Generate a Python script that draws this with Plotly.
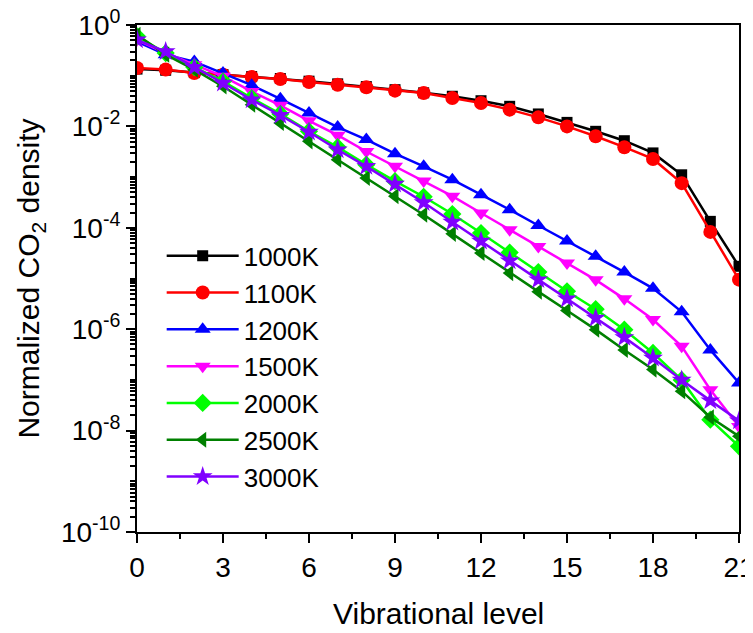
import plotly.graph_objects as go

levels = list(range(22))

t1000 = [0.135, 0.128, 0.115, 0.105, 0.096, 0.088, 0.078, 0.069, 0.061, 0.053, 0.046,
         0.0393, 0.0321, 0.0249, 0.0176, 0.012, 0.008, 0.00522, 0.003, 0.00111, 1.34e-4, 1.74e-5]
t1100 = [0.142, 0.132, 0.113, 0.105, 0.094, 0.086, 0.075, 0.0665, 0.059, 0.0507, 0.0456,
         0.0363, 0.029, 0.0214, 0.0151, 0.010, 0.00638, 0.00389, 0.00228, 7.6e-4, 8.3e-5, 9.5e-6]
t1200 = [0.47, 0.26, 0.19, 0.113, 0.065, 0.035, 0.0184, 0.0097, 0.0055, 0.0029, 0.00163,
         8.9e-4, 4.5e-4, 2.28e-4, 1.11e-4, 5.5e-5, 2.74e-5, 1.34e-5, 6.4e-6, 2.2e-6, 3.9e-7, 8.7e-8]
t1500 = [0.51, 0.28, 0.165, 0.097, 0.049, 0.026, 0.0129, 0.0067, 0.0032, 0.00163, 8.4e-4,
         4.2e-4, 1.96e-4, 9.2e-5, 4.3e-5, 2.02e-5, 9.4e-6, 3.97e-6, 1.55e-6, 4.6e-7, 6.4e-8, 1.2e-8]
t2000 = [0.6, 0.28, 0.147, 0.0776, 0.0363, 0.0176, 0.008, 0.0039, 0.00176, 8.3e-4, 4.1e-4,
         1.87e-4, 7.9e-5, 3.26e-5, 1.34e-5, 5.6e-6, 2.48e-6, 9.8e-7, 3.4e-7, 1.0e-7, 1.64e-8, 4.9e-9]
t2500 = [0.64, 0.26, 0.131, 0.0618, 0.0268, 0.0117, 0.00508, 0.0022, 9.6e-4, 4.2e-4, 1.81e-4,
         7.6e-5, 3.18e-5, 1.28e-5, 5.5e-6, 2.34e-6, 9.8e-7, 3.9e-7, 1.6e-7, 6.0e-8, 1.83e-8, 7.7e-9]
t3000 = [0.51, 0.30, 0.147, 0.0718, 0.0336, 0.0166, 0.00776, 0.00347, 0.00163, 7.3e-4, 3.16e-4,
         1.3e-4, 5.5e-5, 2.24e-5, 9.5e-6, 4.0e-6, 1.66e-6, 6.9e-7, 2.7e-7, 1.0e-7, 3.9e-8, 1.57e-8]

series_names = ["1000K", "1100K", "1200K", "1500K", "2000K", "2500K", "3000K"]
series_values = [t1000, t1100, t1200, t1500, t2000, t2500, t3000]
colors = ["#000000", "#FF0000", "#0000FF", "#FF00FF", "#00FF00", "#008000", "#8000FF"]
symbols = ["square", "circle", "triangle-up", "triangle-down", "diamond", "triangle-left", "star"]
sizes = [11, 14, 14, 14, 14, 14, 15]

y_tick_exps = [0, -2, -4, -6, -8, -10]
x_tick_vals = [0, 3, 6, 9, 12, 15, 18, 21]
x_title = "Vibrational level"
y_title = "Normalized CO<sub>2</sub> density"

FONT = "Liberation Sans, Arial, sans-serif"

fig = go.Figure()
for name, vals, c, s, sz in zip(series_names, series_values, colors, symbols, sizes):
    fig.add_trace(go.Scatter(
        x=levels, y=vals, name=name, mode="lines+markers",
        line=dict(color=c, width=2.5),
        marker=dict(symbol=s, size=sz, color=c, line=dict(width=0)),
    ))

minor_y = []
for d in range(-10, 0):
    for k in range(1, 10):
        v = k * 10.0 ** d
        if k == 1 and d % 2 == 0:
            continue
        minor_y.append(v)

# page body has an 8px margin, so the figure is sized to fit the 753x633 window
fig.update_layout(
    width=745, height=617,
    margin=dict(l=129, r=14, t=17, b=93),
    paper_bgcolor="white", plot_bgcolor="white",
    font=dict(family=FONT, color="black", size=28),
    showlegend=True,
    legend=dict(
        x=0.041, y=0.591, xanchor="left", yanchor="top",
        bgcolor="rgba(0,0,0,0)", borderwidth=0,
        font=dict(family=FONT, size=26, color="black"),
        tracegroupgap=0, itemwidth=72,
    ),
    xaxis=dict(
        range=[0, 21], showgrid=False, zeroline=False, automargin=False,
        ticklabeloverflow="allow",
        showline=True, linecolor="black", linewidth=2, mirror=True,
        ticks="outside", ticklen=9, tickwidth=2, tickcolor="black",
        tickvals=x_tick_vals, ticktext=[str(v) for v in x_tick_vals],
        tickfont=dict(family=FONT, size=28),
        minor=dict(ticks="outside", ticklen=5, tickwidth=2, tickcolor="black", dtick=1.5, tick0=0),
    ),
    yaxis=dict(
        type="log", range=[-10, 0], showgrid=False, zeroline=False, automargin=False,
        ticklabeloverflow="allow",
        showline=True, linecolor="black", linewidth=2, mirror=True,
        ticks="outside", ticklen=9, tickwidth=2, tickcolor="black",
        tickvals=[10.0 ** e for e in y_tick_exps],
        ticktext=["10<sup>%d</sup>" % e for e in y_tick_exps],
        tickfont=dict(family=FONT, size=28),
        minor=dict(ticks="outside", ticklen=5, tickwidth=1.5, tickcolor="black", tickvals=minor_y),
        title=dict(text=y_title, font=dict(family=FONT, size=30), standoff=12),
    ),
    annotations=[
        dict(text=x_title, xref="paper", yref="paper", x=0.5, y=-0.16,
             xanchor="center", yanchor="middle", showarrow=False,
             font=dict(family=FONT, size=30, color="black")),
    ],
)

fig.write_html("out.html")
